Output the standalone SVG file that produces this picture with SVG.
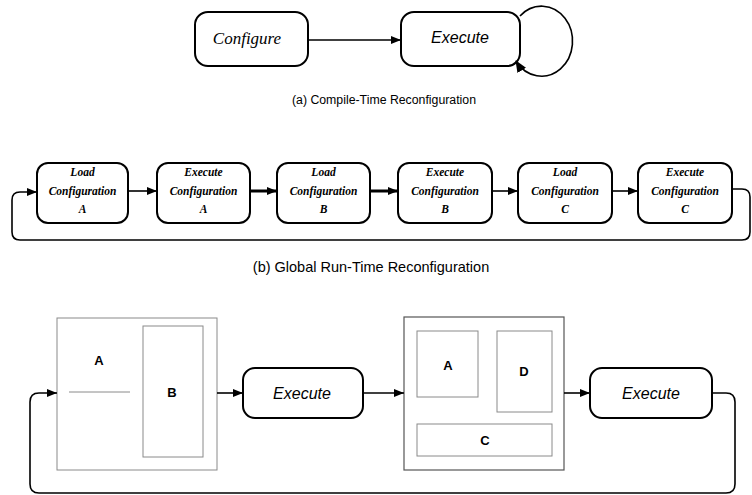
<svg xmlns="http://www.w3.org/2000/svg" width="752" height="495" viewBox="0 0 752 495">
  <defs>
    <marker id="arrow" viewBox="0 0 10 8" refX="10" refY="4" markerWidth="10" markerHeight="8" markerUnits="userSpaceOnUse" orient="auto">
      <path d="M0,0 L10,4 L0,8 Z" fill="#000"/>
    </marker>
    <marker id="arrowBig" viewBox="0 0 12 10" refX="11" refY="5" markerWidth="12" markerHeight="10" markerUnits="userSpaceOnUse" orient="auto">
      <path d="M0,0 L12,5 L0,10 Z" fill="#000"/>
    </marker>
  </defs>
  <style>
    .box { fill: #fff; stroke: #000; stroke-width: 2; }
    .conn { fill: none; stroke: #000; stroke-width: 1.6; }
    .thick { stroke-width: 3; }
    .region { fill: none; stroke: #8a8a8a; stroke-width: 1; }
    .regionDark { fill: none; stroke: #555; stroke-width: 1.2; }
    .caption { font-family: "Liberation Sans", Arial, sans-serif; fill: #000; text-anchor: middle; }
    .stage { font-family: "Liberation Serif", "Times New Roman", serif; font-style: italic; font-weight: bold; font-size: 11.5px; text-anchor: middle; fill: #000; }
    .exec { font-family: "Liberation Sans", Arial, sans-serif; font-style: italic; font-size: 16px; text-anchor: middle; fill: #000; }
    .part { font-family: "Liberation Sans", Arial, sans-serif; font-weight: bold; font-size: 13px; text-anchor: middle; fill: #000; }
  </style>

  <rect width="752" height="495" fill="#fff"/>

  <!-- (a) compile-time reconfiguration -->
  <g id="a-configure">
    <rect class="box" x="195" y="12" width="113" height="54" rx="13"/>
    <text x="247" y="44" font-family="Liberation Serif, Times New Roman, serif" font-style="italic" font-size="17" text-anchor="middle">Configure</text>
  </g>
  <g id="a-execute">
    <rect class="box" x="401" y="12" width="119" height="54" rx="13"/>
    <text class="exec" x="460" y="43">Execute</text>
  </g>
  <text id="caption-a" class="caption" x="384" y="104" font-size="12.3">(a) Compile-Time Reconfiguration</text>

  <!-- (b) global run-time reconfiguration stages -->
  <g id="b-load-a">
    <rect class="box" x="37" y="163" width="91" height="60" rx="11"/>
    <text class="stage" x="82.5" y="176">Load</text>
    <text class="stage" x="82.5" y="195">Configuration</text>
    <text class="stage" x="82.5" y="213">A</text>
  </g>
  <g id="b-exec-a">
    <rect class="box" x="157" y="163" width="93" height="60" rx="11"/>
    <text class="stage" x="203.5" y="176">Execute</text>
    <text class="stage" x="203.5" y="195">Configuration</text>
    <text class="stage" x="203.5" y="213">A</text>
  </g>
  <g id="b-load-b">
    <rect class="box" x="277" y="163" width="93" height="60" rx="11"/>
    <text class="stage" x="323.5" y="176">Load</text>
    <text class="stage" x="323.5" y="195">Configuration</text>
    <text class="stage" x="323.5" y="213">B</text>
  </g>
  <g id="b-exec-b">
    <rect class="box" x="398" y="163" width="94" height="60" rx="11"/>
    <text class="stage" x="445" y="176">Execute</text>
    <text class="stage" x="445" y="195">Configuration</text>
    <text class="stage" x="445" y="213">B</text>
  </g>
  <g id="b-load-c">
    <rect class="box" x="518" y="163" width="94" height="60" rx="11"/>
    <text class="stage" x="565" y="176">Load</text>
    <text class="stage" x="565" y="195">Configuration</text>
    <text class="stage" x="565" y="213">C</text>
  </g>
  <g id="b-exec-c">
    <rect class="box" x="638" y="163" width="94" height="60" rx="11"/>
    <text class="stage" x="685" y="176">Execute</text>
    <text class="stage" x="685" y="195">Configuration</text>
    <text class="stage" x="685" y="213">C</text>
  </g>
  <text id="caption-b" class="caption" x="371" y="272" font-size="14.5">(b) Global Run-Time Reconfiguration</text>

  <!-- (c) partial run-time reconfiguration -->
  <g id="c-fabric-1">
    <rect class="region" x="57" y="318" width="160" height="152"/>
    <line class="region" x1="69" y1="392" x2="130" y2="392"/>
    <text class="part" x="99" y="365">A</text>
    <rect class="region" x="143" y="326" width="60" height="131"/>
    <text class="part" x="172" y="397">B</text>
  </g>
  <g id="c-execute-1">
    <rect class="box" x="243" y="368" width="120" height="50" rx="12"/>
    <text class="exec" x="302" y="399">Execute</text>
  </g>
  <g id="c-fabric-2">
    <rect class="regionDark" x="404" y="317" width="160" height="153"/>
    <rect class="region" x="417" y="331" width="61" height="66"/>
    <text class="part" x="448" y="370">A</text>
    <rect class="region" x="497" y="331" width="55" height="81"/>
    <text class="part" x="524" y="376">D</text>
    <rect class="region" x="417" y="424" width="135" height="32"/>
    <text class="part" x="485" y="445">C</text>
  </g>
  <g id="c-execute-2">
    <rect class="box" x="590" y="368" width="122" height="50" rx="12"/>
    <text class="exec" x="651" y="399">Execute</text>
  </g>

  <g id="connectors">
    <!-- (a) -->
    <line class="conn" x1="308" y1="40" x2="401" y2="40" marker-end="url(#arrow)"/>
    <path class="conn" d="M 520 16 A 31 35 0 1 1 516 61" marker-end="url(#arrowBig)"/>
    <!-- (b) -->
    <line class="conn" x1="128" y1="191" x2="157" y2="191" marker-end="url(#arrow)"/>
    <line class="conn thick" x1="250" y1="191" x2="277" y2="191" marker-end="url(#arrow)"/>
    <line class="conn thick" x1="370" y1="191" x2="398" y2="191" marker-end="url(#arrow)"/>
    <line class="conn" x1="492" y1="191" x2="518" y2="191" marker-end="url(#arrow)"/>
    <line class="conn" x1="612" y1="191" x2="638" y2="191" marker-end="url(#arrow)"/>
    <path class="conn" d="M 732 189 L 742 189 Q 750 189 750 197 L 750 232 Q 750 240 742 240 L 20 240 Q 12 240 12 232 L 12 200 Q 12 192 20 192 L 37 192" marker-end="url(#arrow)"/>
    <!-- (c) -->
    <line class="conn" x1="217" y1="393" x2="243" y2="393" marker-end="url(#arrow)"/>
    <line class="conn" x1="363" y1="393" x2="404" y2="393" marker-end="url(#arrow)"/>
    <line class="conn" x1="564" y1="393" x2="590" y2="393" marker-end="url(#arrow)"/>
    <path class="conn" d="M 712 393 L 726 393 Q 735 393 735 402 L 735 484 Q 735 493 726 493 L 39 493 Q 30 493 30 484 L 30 402 Q 30 393 39 393 L 57 393" marker-end="url(#arrow)"/>
  </g>
</svg>
